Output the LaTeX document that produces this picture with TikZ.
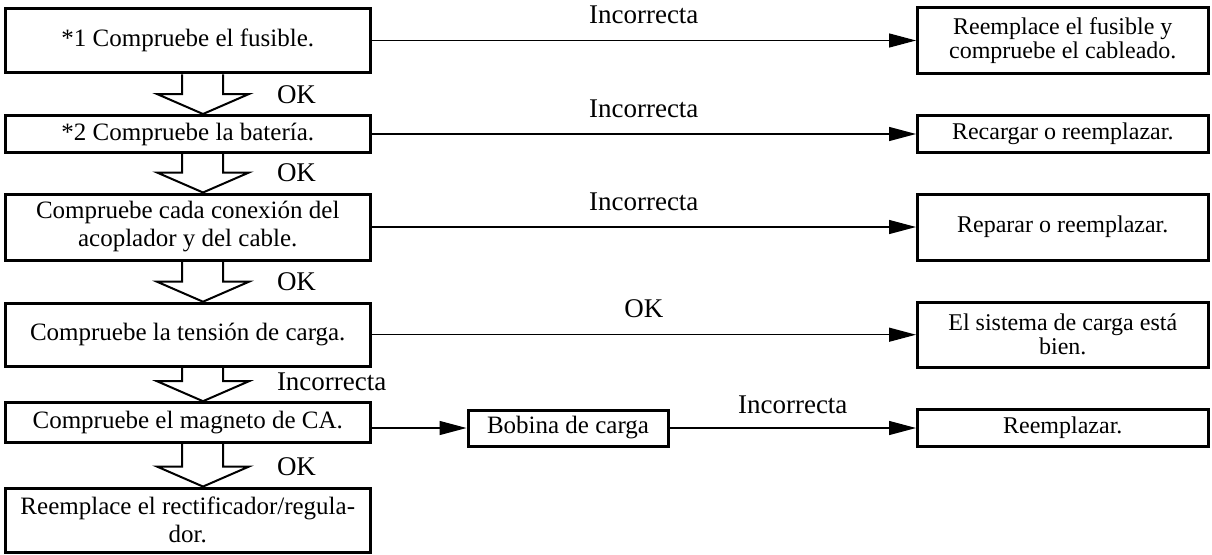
\documentclass[tikz,border=0pt]{standalone}
\usepackage{fontspec}
\setmainfont{Liberation Serif}
\usetikzlibrary{arrows.meta,calc}
\tikzset{
  >={Triangle[length=27pt,width=14pt]},
  box/.style={draw=black,line width=3pt,inner sep=2pt,align=center,font=\fontsize{25}{28}\selectfont},
  lbox/.style={box,minimum width=364.5pt},
  rbox/.style={box,minimum width=290.5pt,font=\fontsize{24}{24}\selectfont},
  lab/.style={font=\fontsize{27}{30}\selectfont,inner sep=3pt},
  arr/.style={->,line width=1.3pt},
  hollow/.style={line width=2pt,line join=miter},
}
% hollow down arrow between two boxes, with its label
\newcommand\okarrow[4]{%
  \draw[hollow] let \p1=(#1.south), \p2=(#2.north) in
    (182,\y1) -- (182,\y2+20) -- (157,\y2+20) -- (203,\y2) -- (249,\y2+20) -- (223,\y2+20) -- (223,\y1)
    (273,\y2+11) node[lab,anchor=base west] (#3) {#4};
}
\begin{document}
\begin{tikzpicture}[x=1pt,y=1pt]
\useasboundingbox (0,0) rectangle (1212,-554);
% left column
\node[lbox,minimum height=64.5pt] (fus) at (187.75,-40.5) {*1 Compruebe el fusible.};
\node[lbox,minimum height=37pt] (bat) at (187.75,-134) {*2 Compruebe la batería.};
\node[lbox,minimum height=66pt] (con) at (187.75,-227) {Compruebe cada conexión del\\acoplador y del cable.};
\node[lbox,minimum height=63pt] (ten) at (187.75,-334.7) {Compruebe la tensión de carga.};
\node[lbox,minimum height=40pt] (mag) at (187.75,-422.7) {Compruebe el magneto de CA.};
\node[lbox,minimum height=64.5pt] (rec) at (187.75,-520.3) {Reemplace el rectificador/regula-\\dor.};
% right column
\node[rbox,minimum height=65.5pt] (rfus) at (1062.75,-40.5) {Reemplace el fusible y\\compruebe el cableado.};
\node[rbox,minimum height=37.5pt] (rbat) at (1062.75,-134) {Recargar o reemplazar.};
\node[rbox,minimum height=66pt] (rcon) at (1062.75,-227) {Reparar o reemplazar.};
\node[rbox,minimum height=65pt] (rten) at (1062.75,-334.7) {El sistema de carga está\\bien.};
\node[rbox,minimum height=37.5pt] (rmag) at (1062.75,-428) {Reemplazar.};
\node[box,minimum width=200pt,minimum height=36pt] (bob) at (568,-428) {Bobina de carga};
% hollow arrows
\okarrow{fus}{bat}{ok1}{OK}
\okarrow{bat}{con}{ok2}{OK}
\okarrow{con}{ten}{ok3}{OK}
\okarrow{ten}{mag}{inc4}{Incorrecta}
\okarrow{mag}{rec}{ok5}{OK}
% side branches
\draw[arr] (fus.east) -- node[lab,above=13pt] (l1) {Incorrecta} (rfus.west);
\draw[arr] (bat.east) -- node[lab,above=13pt] (l2) {Incorrecta} (rbat.west);
\draw[arr] (con.east) -- node[lab,above=13pt] (l3) {Incorrecta} (rcon.west);
\draw[arr] (ten.east) -- node[lab,above=13pt] (l4) {OK} (rten.west);
\draw[arr] (mag.east |- bob.west) -- (bob.west);
\draw[arr] (bob.east) -- node[lab,above=11pt] (l5) {Incorrecta} (rmag.west);
\end{tikzpicture}
\end{document}
